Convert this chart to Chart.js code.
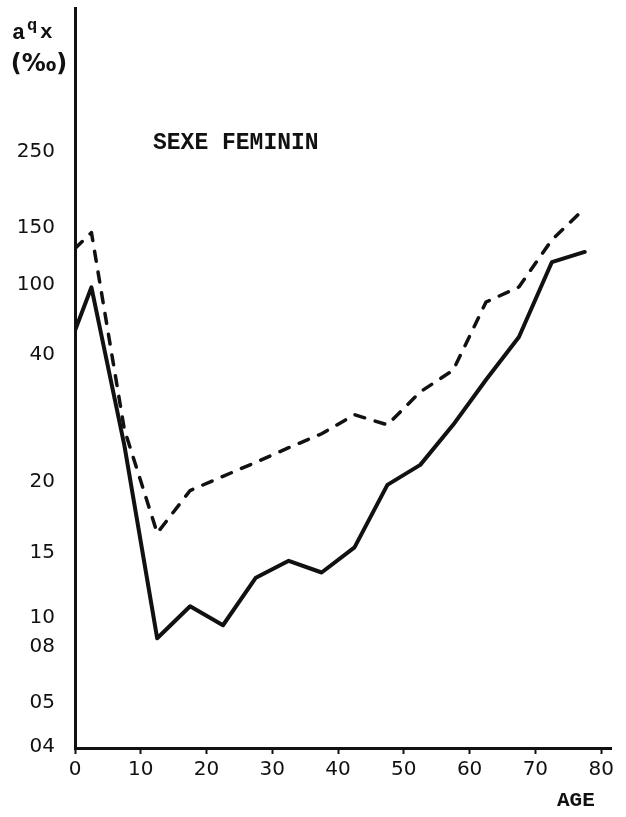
<!DOCTYPE html>
<html>
<head>
<meta charset="utf-8">
<script src="https://cdn.jsdelivr.net/npm/chart.js@4.4.0/dist/chart.umd.min.js"></script>
<style>
body{margin:0;background:#fff;}
canvas{display:block;}
</style>
</head>
<body>
<canvas id="qxChart" width="626" height="817"></canvas>
<script>
// ages (midpoints of age groups)
const ages = [0, 2.5, 7.5, 12.5, 17.5, 22.5, 27.5, 32.5, 37.5, 42.5, 47.5, 52.5, 57.5, 62.5, 67.5, 72.5, 77.5];

// solid curve
const solidQx = [61, 98, 25.8, 8.6, 10.9, 9.5, 13.1, 14.4, 13.5, 15.4, 19.8, 22.7, 29.0, 36.1, 55.4, 120, 129];

// dashed curve
const dashedQx = [132, 146, 28.3, 16.4, 19.4, 20.9, 23.1, 25.4, 27.6, 30.6, 29.0, 34.2, 37.6, 85.4, 98.3, 139.5, 176];

const xTicks = [0, 10, 20, 30, 40, 50, 60, 70, 80];
const xTickLabels = ["0", "10", "20", "30", "40", "50", "60", "70", "80"];

const yTicks = [4, 5, 8, 10, 15, 20, 40, 100, 150, 250];
const yTickLabels = ["04", "05", "08", "10", "15", "20", "40", "100", "150", "250"];

// the hand drawn axis is not regular: place each tick at its height (px above the x axis)
const yAxisLength = 740;
const yAnchorValues = [3.98, 4, 5, 8, 10, 15, 20, 40, 100, 150, 250, 439];
const yAnchorOffsets = [0, 1, 45, 101, 130, 195, 266, 393, 463, 520, 596, 740];

function valueToDecimal(v){
  const a = yAnchorValues, o = yAnchorOffsets;
  if(v <= a[0]) return 0;
  for(let i = 1; i < a.length; i++){
    if(v <= a[i]){
      const t = (v - a[i-1]) / (a[i] - a[i-1]);
      return (o[i-1] + t * (o[i] - o[i-1])) / yAxisLength;
    }
  }
  return 1;
}

function decimalToValue(d){
  const a = yAnchorValues, o = yAnchorOffsets;
  const off = d * yAxisLength;
  for(let i = 1; i < o.length; i++){
    if(off <= o[i]){
      const t = (off - o[i-1]) / (o[i] - o[i-1]);
      return a[i-1] + t * (a[i] - a[i-1]);
    }
  }
  return a[a.length-1];
}

class PiecewiseScale extends Chart.LinearScale {
  static id = "piecewise";
  static defaults = {};
  determineDataLimits(){
    this.min = yAnchorValues[0];
    this.max = yAnchorValues[yAnchorValues.length-1];
  }
  buildTicks(){
    return yTicks.map(v => ({value: v}));
  }
  getPixelForValue(value){
    return this.getPixelForDecimal(valueToDecimal(value));
  }
  getValueForPixel(pixel){
    return decimalToValue(this.getDecimalForPixel(pixel));
  }
}
Chart.register(PiecewiseScale);

const ink = "#111111";

const textPlugin = {
  id: "texts",
  afterDraw(chart){
    const c = chart.ctx;
    c.save();
    c.fillStyle = ink;
    c.textBaseline = "middle";
    c.textAlign = "left";
    c.font = 'bold 22px "Liberation Mono"';
    c.fillText("a", 12, 33);
    c.font = 'bold 17px "Liberation Mono"';
    c.fillText("q", 27, 26);
    c.font = 'bold 21px "Liberation Mono"';
    c.fillText("x", 40, 33);
    c.textAlign = "center";
    c.font = 'bold 24px "DejaVu Sans"';
    c.fillText("(‰)", 39, 65);
    c.textAlign = "left";
    c.font = 'bold 23px "Liberation Mono"';
    c.fillText("SEXE FEMININ", 153, 143);
    c.font = 'bold 21px "Liberation Mono"';
    c.fillText("AGE", 557, 801);
    c.restore();
  }
};

new Chart(document.getElementById("qxChart"), {
  type: "line",
  data: {
    datasets: [
      {
        label: "solid",
        data: ages.map((a, i) => ({x: a, y: solidQx[i]})),
        borderColor: ink,
        borderWidth: 4,
        borderJoinStyle: "round",
        borderCapStyle: "round",
        pointRadius: 0,
        tension: 0,
        fill: false
      },
      {
        label: "dashed",
        data: ages.map((a, i) => ({x: a, y: dashedQx[i]})),
        borderColor: ink,
        borderWidth: 3.5,
        borderDash: [10, 11],
        borderJoinStyle: "round",
        borderCapStyle: "round",
        pointRadius: 0,
        tension: 0,
        fill: false
      }
    ]
  },
  options: {
    responsive: false,
    animation: false,
    devicePixelRatio: 1,
    layout: {padding: {top: 8, right: 15, left: 0, bottom: 0}},
    plugins: {
      legend: {display: false},
      tooltip: {enabled: false}
    },
    scales: {
      x: {
        type: "linear",
        min: 0,
        max: 81.5,
        afterBuildTicks: axis => { axis.ticks = xTicks.map(v => ({value: v})); },
        afterFit: axis => { axis.height = 69; axis.paddingLeft = 0; axis.paddingRight = 0; },
        border: {color: ink, width: 3},
        grid: {drawOnChartArea: false, drawTicks: true, tickLength: 6, tickWidth: 2, color: ink},
        ticks: {
          padding: 4,
          color: ink,
          font: {family: "DejaVu Sans", size: 20},
          maxRotation: 0,
          callback: (v, i) => xTickLabels[i]
        }
      },
      y: {
        type: "piecewise",
        afterFit: axis => { axis.width = 75; axis.paddingTop = 0; axis.paddingBottom = 0; },
        border: {color: ink, width: 3},
        grid: {drawOnChartArea: false, drawTicks: false},
        ticks: {
          padding: 20,
          color: ink,
          font: {family: "DejaVu Sans", size: 20},
          callback: (v, i) => yTickLabels[i]
        }
      }
    }
  },
  plugins: [textPlugin]
});
</script>
</body>
</html>
